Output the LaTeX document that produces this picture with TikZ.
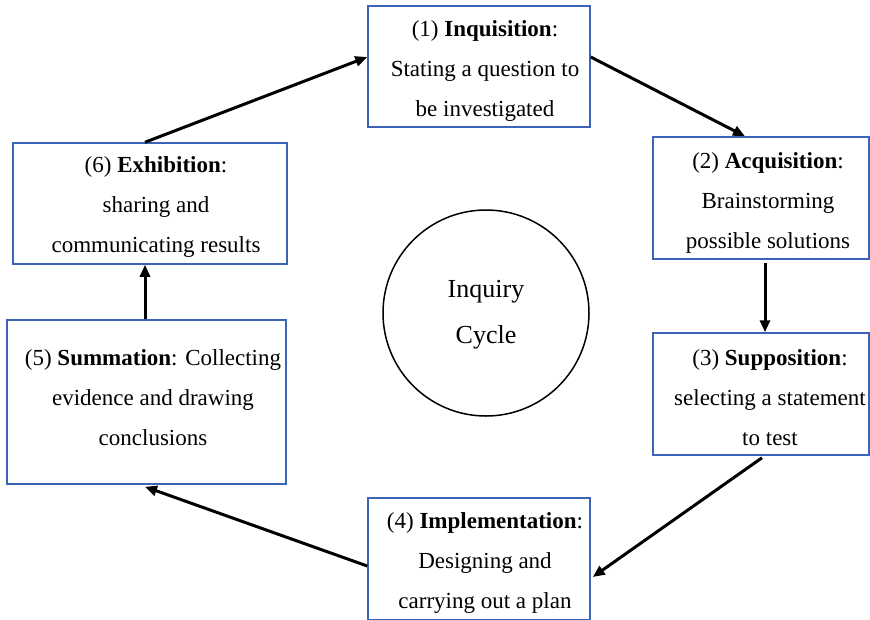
\documentclass[tikz,border=0pt]{standalone}
\usepackage{fontspec}
\setmainfont{Liberation Serif}
\usetikzlibrary{arrows.meta}
\definecolor{boxblue}{RGB}{60,100,180}
\begin{document}
\begin{tikzpicture}[x=1pt,y=-1pt,
  box/.style={draw=boxblue, line width=1.5pt, rectangle, inner sep=0pt},
  txt/.style={align=center, font=\fontsize{23}{40}\selectfont, inner sep=0pt},
  flow/.style={line width=3pt, -{Triangle[length=12pt,width=10pt]}}]
\useasboundingbox (0,0) rectangle (870,619);
% boxes
\node[box, minimum width=222pt, minimum height=121pt] (b1) at (479,66.5) {};
\node[box, minimum width=216pt, minimum height=122pt] (b2) at (761,198) {};
\node[box, minimum width=216pt, minimum height=122pt] (b3) at (761,394) {};
\node[box, minimum width=222pt, minimum height=122pt] (b4) at (479,559) {};
\node[box, minimum width=279pt, minimum height=164pt] (b5) at (146.5,402) {};
\node[box, minimum width=274pt, minimum height=121pt] (b6) at (150,203.5) {};
% texts
\node[txt] (t1) at (485,70.5) {(1) \textbf{Inquisition}:\\Stating a question to\\be investigated};
\node[txt] (t2) at (768,202.5) {(2) \textbf{Acquisition}:\\Brainstorming\\possible solutions};
\node[txt] (t3) at (770,398) {(3) \textbf{Supposition}:\\selecting a statement\\to test};
\node[txt] (t4) at (485,562.5) {(4) \textbf{Implementation}:\\Designing and\\carrying out a plan};
\node[txt] (t5) at (153,398) {(5) \textbf{Summation}: Collecting\\evidence and drawing\\conclusions};
\node[txt] (t6) at (156,207) {(6) \textbf{Exhibition}:\\sharing and\\communicating results};
% centre circle
\node[draw, circle, line width=1.5pt, minimum size=206pt, inner sep=0pt] (c) at (486,313) {};
\node[align=center, font=\fontsize{26}{46}\selectfont, inner sep=0pt] (ct) at (486,315) {Inquiry\\Cycle};
% connectors
\draw[flow] ([xshift=-5pt]b6.north) -- ([yshift=9.5pt]b1.west);
\draw[flow] ([yshift=9.5pt]b1.east) -- ([xshift=-16pt]b2.north);
\draw[flow] ([xshift=4pt,yshift=-3pt]b2.south) -- ([xshift=4pt]b3.north);
\draw[flow] ([xshift=1pt,yshift=-2pt]b3.south) -- ([yshift=-18pt,xshift=2pt]b4.east);
\draw[flow] ([yshift=-7pt]b4.west) -- ([xshift=-1.5pt,yshift=-2pt]b5.south);
\draw[flow] ([xshift=-1.5pt]b5.north) -- ([xshift=-5pt]b6.south);
\end{tikzpicture}
\end{document}
